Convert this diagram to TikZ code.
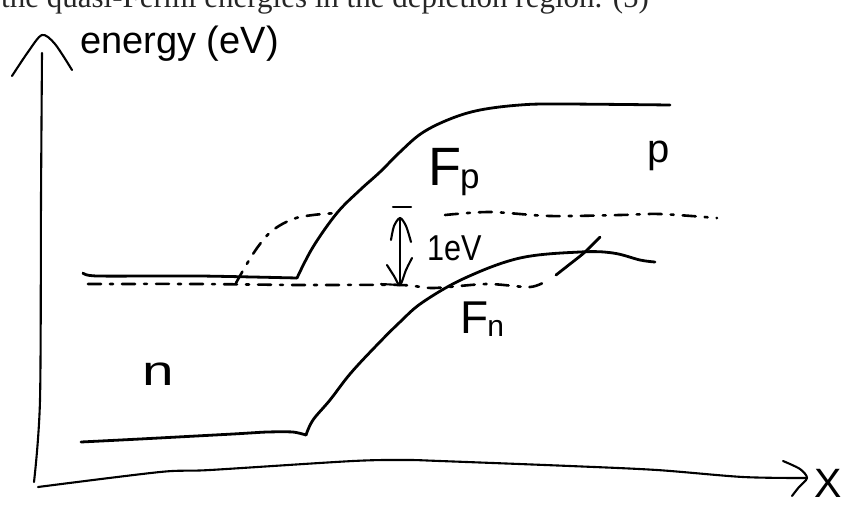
\documentclass[tikz,border=0pt]{standalone}
\usepackage{fontspec}
\setmainfont{Liberation Serif}
\newfontfamily\hand{Liberation Sans}
\begin{document}
\begin{tikzpicture}[x=1pt,y=-1pt, line cap=round, line join=round,
  curve/.style={line width=2.8pt},
  axisline/.style={line width=2.1pt},
  dashcurve/.style={line width=2.6pt, dash pattern=on 13pt off 9pt on 3pt off 9pt},
  hw/.style={inner sep=0pt, anchor=base west}]
\useasboundingbox (0,0) rectangle (849,504);
\clip (0,0) rectangle (849,504);
% cut-off caption line
\node[inner sep=0pt, anchor=base west, font=\fontsize{31}{31}\selectfont, text=black!85] (caption) at (1,7) {the quasi-Fermi energies in the depletion region. (5)};
% axes
\coordinate (origin) at (38,487);
\coordinate (ytop) at (42,53);
\coordinate (xend) at (807,478);
\draw[axisline] plot[smooth] coordinates {(ytop) (41,200) (40,400) (34,482)};
\draw[axisline] plot[smooth, tension=0.5] coordinates {(12,76) (28,52) (42,35) (55,44) (72,70)};
\draw[axisline] plot[smooth] coordinates {(origin) (160,472) (210,470) (353,461) (407,460) (440,461) (570,466) (657,470) (743,477) (xend)};
\draw[axisline] plot[smooth, tension=0.5] coordinates {(783,461) (800,469) (xend) (799,487) (792,496)};
% upper solid curve
\draw[curve] plot[smooth, tension=0.4] coordinates {(83,273) (97,276) (200,276) (297,278)};
\draw[curve] plot[smooth, tension=0.6] coordinates {(297,278) (313,247) (337,213) (360,190) (380,172) (400,152) (422,133) (450,119) (480,110) (520,105) (560,104) (670,105)};
% lower solid curve
\draw[curve] plot[smooth, tension=0.4] coordinates {(81,442) (140,439) (233,434) (267,432) (293,432) (306,435)};
\draw[curve] plot[smooth, tension=0.6] coordinates {(306,435) (313,420) (330,400) (350,374) (375,347) (400,322) (423,302) (465,278) (520,258) (580,252) (613,253) (640,260) (655,262)};
% dashed quasi-Fermi levels
\draw[dashcurve] plot[smooth, tension=0.6] coordinates {(236,283) (248,262) (260,244) (273,230) (293,219) (313,215) (337,213)};
\draw[dashcurve] plot[smooth, tension=0.5] coordinates {(445,215) (490,212) (550,216) (620,215) (660,214) (717,218)};
\draw[dashcurve] plot[smooth, tension=0.5] coordinates {(88,284) (200,284) (300,285) (400,285) (433,288) (487,284) (530,287) (548,280)};
\draw[curve] plot[smooth, tension=0.5] coordinates {(556,275) (570,264) (585,252) (600,237)};
% 1 eV marker
\coordinate (evtop) at (400,218);
\coordinate (evbot) at (400,285);
\draw[axisline] (393,207) -- (411,207);
\draw[axisline] (evtop) -- (evbot);
\draw[axisline] plot[smooth, tension=0.5] coordinates {(391,240) (394,226) (evtop) (406,226) (411,242)};
\draw[axisline] plot[smooth, tension=0.5] coordinates {(387,265) (394,276) (evbot) (406,270) (412,258)};
\draw[axisline] (381,284) -- (evbot);
% labels
\node[hw, font=\hand\fontsize{38}{38}\selectfont] (ylabel) at (80,53) {energy (eV)};
\node[hw, font=\hand] (eV) at (427,260) {\scalebox{0.85}[1]{\fontsize{36}{36}\selectfont 1eV}};
\node[hw, font=\hand] (Fp) at (428,185) {\fontsize{54}{54}\selectfont F\kern-1pt\raisebox{-3pt}{\fontsize{35}{35}\selectfont p}};
\node[hw, font=\hand] (plabel) at (647,162) {\fontsize{40}{40}\selectfont p};
\node[hw, font=\hand] (Fn) at (460,333) {\fontsize{46}{46}\selectfont F\kern-1pt\raisebox{-3pt}{\fontsize{30}{30}\selectfont n}};
\node[hw, font=\hand] (nlabel) at (142,385) {\scalebox{1.35}[1]{\fontsize{42}{42}\selectfont n}};
\node[hw, font=\hand] (xlabel) at (814,497) {\fontsize{41}{41}\selectfont X};
\end{tikzpicture}
\end{document}
